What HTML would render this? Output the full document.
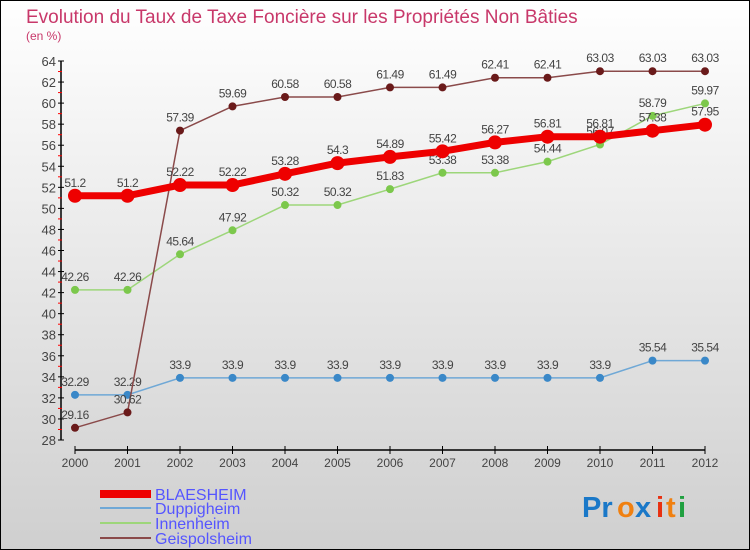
<!DOCTYPE html>
<html><head><meta charset="utf-8"><style>
body{margin:0}
#c{width:750px;height:550px;position:relative;overflow:hidden;font-family:"Liberation Sans",sans-serif}
</style></head><body>
<div id="c">
<svg id="s" width="750" height="550" xmlns="http://www.w3.org/2000/svg">
<defs><linearGradient id="bg" x1="0" y1="0" x2="0" y2="1"><stop offset="0" stop-color="#ffffff"/><stop offset="1" stop-color="#cfcfcf"/></linearGradient></defs>
<rect x="0" y="0" width="750" height="550" fill="url(#bg)" stroke="#000" stroke-width="2"/>
<text x="26" y="23" font-size="19" fill="#c8386a">Evolution du Taux de Taxe Foncière sur les Propriétés Non Bâties</text>
<text x="26" y="40" font-size="12" fill="#c8386a">(en %)</text>
<g id="axes"></g><g id="series"></g><g id="legend"></g>
<g font-size="29" font-weight="bold">
<text x="582" y="517" fill="#1a78c8">Pr</text><text x="617" y="517" fill="#f08010">o</text><text x="635" y="517" fill="#1a78c8">x</text><text x="656" y="517" fill="#e83010">i</text><text x="666" y="517" fill="#f08010">t</text><text x="678" y="517" fill="#20a040">i</text>
</g>
</svg></div>
<script>
const years=["2000","2001","2002","2003","2004","2005","2006","2007","2008","2009","2010","2011","2012"];
const blaesheim=[51.2,51.2,52.22,52.22,53.28,54.3,54.89,55.42,56.27,56.81,56.81,57.38,57.95];
const duppigheim=[32.29,32.29,33.9,33.9,33.9,33.9,33.9,33.9,33.9,33.9,33.9,35.54,35.54];
const innenheim=[42.26,42.26,45.64,47.92,50.32,50.32,51.83,53.38,53.38,54.44,56.07,58.79,59.97];
const geispolsheim=[29.16,30.62,57.39,59.69,60.58,60.58,61.49,61.49,62.41,62.41,63.03,63.03,63.03];
const yTicks=[28,30,32,34,36,38,40,42,44,46,48,50,52,54,56,58,60,62,64];
const NS="http://www.w3.org/2000/svg";
const X=i=>75+i*52.5;
const Y=v=>440-(v-28)*(379/36);
function mk(tag,attrs,parent){const e=document.createElementNS(NS,tag);for(const k in attrs)e.setAttribute(k,attrs[k]);parent.appendChild(e);return e;}
const ax=document.getElementById('axes');
let l=mk('line',{x1:61,y1:Y(64),x2:61,y2:Y(28),stroke:'#000','stroke-width':1.5},ax);


yTicks.forEach(v=>{
 mk('line',{x1:58,x2:64,y1:Y(v),y2:Y(v),stroke:'#000'},ax);
 if(v<64){const r=mk('line',{x1:58,x2:62,y1:Y(v+1),y2:Y(v+1),stroke:'#f00'},ax);}
 const t=mk('text',{x:56,y:Y(v)+5,'font-size':13,'text-anchor':'end',fill:'#444'},ax);
 t.textContent=v;
 
 
});
l=mk('line',{x1:X(0),y1:450,x2:X(12),y2:450,stroke:'#000','stroke-width':1.5},ax);


years.forEach((y,i)=>{
 mk('line',{x1:X(i),x2:X(i),y1:446,y2:454,stroke:'#000'},ax);
 const t=mk('text',{x:X(i),y:467,'font-size':12,'text-anchor':'middle',fill:'#444'},ax);
 t.textContent=y;
 
 
});
const sg=document.getElementById('series');
function draw(data,color,dot,w,r,name){
 const g=mk('g',{},sg);
 
 
 const p=mk('polyline',{points:data.map((v,i)=>X(i)+','+Y(v)).join(' '),fill:'none',stroke:color,'stroke-width':w},g);
 data.forEach((v,i)=>{
  const c=mk('circle',{cx:X(i),cy:Y(v),r:r,fill:dot},g);
  
  
  const t=mk('text',{x:X(i),y:Y(v)-9,'font-size':12,'text-anchor':'middle',fill:'#444','letter-spacing':'-0.5'},g);
  t.textContent=v;
  
  
 });
}
draw(duppigheim,'#6fa8d6','#3a88c8',1.5,4,'duppigheim');
draw(innenheim,'#9dd67a','#7cc84c',1.5,4,'innenheim');
draw(geispolsheim,'#8a4a4a','#6a1a1a',1.5,4,'geispolsheim');
draw(blaesheim,'#ee0000','#ee0000',7,7,'blaesheim');
const lg=document.getElementById('legend');
[["BLAESHEIM","#ee0000",8,494],["Duppigheim","#6fa8d6",2,508],["Innenheim","#9dd67a",2,523],["Geispolsheim","#8a4a4a",2,538]].forEach(e=>{
 const g=mk('g',{},lg);
 
 
 mk('line',{x1:100,x2:151,y1:e[3],y2:e[3],stroke:e[1],'stroke-width':e[2]},g);
 const t=mk('text',{x:155,y:e[3]+6,'font-size':16,fill:'#5555ff'},g);
 t.textContent=e[0];
});
</script>
</body></html>
